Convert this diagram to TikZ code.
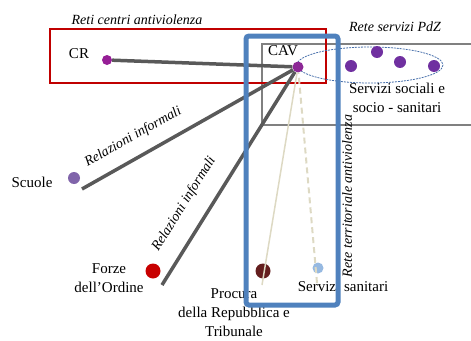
\documentclass[tikz,border=0pt]{standalone}
\usepackage{fontspec}
\setmainfont{Liberation Serif}
\definecolor{tiegray}{RGB}{89,89,89}
\definecolor{netred}{RGB}{192,0,0}
\definecolor{netblue}{RGB}{79,129,189}
\definecolor{pdzblue}{RGB}{70,110,170}
\definecolor{boxgray}{RGB}{128,128,128}
\definecolor{beige}{RGB}{221,217,195}
\definecolor{crpurple}{RGB}{150,30,150}
\definecolor{cavpurple}{RGB}{140,40,150}
\definecolor{pdzpurple}{RGB}{112,48,160}
\definecolor{scuolepurple}{RGB}{128,100,170}
\definecolor{forzered}{RGB}{200,0,0}
\definecolor{procurabrown}{RGB}{100,30,30}
\definecolor{sanitariblue}{RGB}{150,185,225}

\begin{document}
\begin{tikzpicture}[x=1pt,y=-1pt,
    every node/.style={font=\fontsize{15}{19}\selectfont,inner sep=0pt,align=center},
    netlabel/.style={font=\fontsize{14}{17}\selectfont\itshape},
    dot/.style={circle,minimum size=#1,inner sep=0pt},
    tie/.style={line width=3.5pt,draw=tiegray},
    thin tie/.style={line width=1.5pt,draw=beige},
    dashed tie/.style={line width=2pt,draw=beige,dash pattern=on 6pt off 4pt},
  ]
  \useasboundingbox (0,0) rectangle (471,340);

  % reti
  \draw[boxgray,line width=1.5pt] (471,44) -- (262,44) -- (262,125) -- (471,125);
  \draw[netred,line width=1.5pt] (50,29) rectangle (326,83);
  \draw[pdzblue,line width=0.8pt,dash pattern=on 2pt off 1pt] (370,65) ellipse [x radius=73,y radius=18];
  \node[netlabel] (reti) at (137,20) {Reti centri antiviolenza};
  \node[netlabel] (pdz) at (395,27) {Rete servizi PdZ};
  \node[netlabel,rotate=90] (territoriale) at (347,196) {Rete territoriale antiviolenza};

  % nodi
  \node[dot=11pt,fill=cavpurple] (cav) at (298,67) {};
  \node[dot=10pt,fill=crpurple] (crdot) at (107,60) {};
  \node[dot=12pt,fill=pdzpurple] (pdz1) at (351,66) {};
  \node[dot=12pt,fill=pdzpurple] (pdz2) at (377,52) {};
  \node[dot=12pt,fill=pdzpurple] (pdz3) at (400,62) {};
  \node[dot=12pt,fill=pdzpurple] (pdz4) at (434,66) {};
  \node[dot=12pt,fill=scuolepurple] (scuoledot) at (74,178) {};
  \node[dot=15pt,fill=forzered] (forzedot) at (153,271) {};
  \node[circle,fill=procurabrown,minimum width=15pt,minimum height=13pt,inner sep=0pt] (procuradot) at (263,271) {};
  \node[dot=11pt,fill=sanitariblue] (sanitaridot) at (318,268) {};

  \node (cavtxt) at (283,51) {CAV};
  \node (cr) at (79,54) {CR};
  \node (sociali) at (397,98) {Servizi sociali e\\socio - sanitari};
  \node (scuole) at (32,182) {Scuole};
  \node (forze) at (109,278) {Forze\\dell'Ordine};
  \node (procura) at (234,313) {Procura\\della Repubblica e\\Tribunale};
  \node (sanitari) at (343,287) {Servizi sanitari};

  % relazioni
  \coordinate (scuoleend) at (82,189);
  \coordinate (forzeend) at (162,285);
  \coordinate (procuraend) at (262,285);
  \coordinate (sanitariend) at (317,283);
  \draw[tie] (crdot) -- (cav);
  \draw[tie] (scuoleend) -- node[netlabel,sloped,pos=0.29,above=12pt] {Relazioni informali} (cav);
  \draw[tie] (forzeend) -- node[netlabel,sloped,pos=0.32,above=16pt] {Relazioni informali} (cav);
  \draw[thin tie] (procuraend) -- (cav);
  \draw[dashed tie] (sanitariend) -- (cav);

  \draw[netblue,line width=5pt,rounded corners=3pt] (246,36) rectangle (338,305);
\end{tikzpicture}
\end{document}
